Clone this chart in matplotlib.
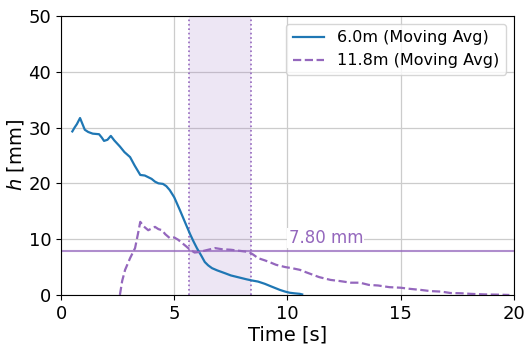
import matplotlib
matplotlib.use("Agg")
import matplotlib.pyplot as plt

# Moving-average wave height at two gauges
t_6m = [0.5, 0.6, 0.7, 0.84, 0.95, 1.05, 1.2, 1.4, 1.68, 1.8, 1.9, 2.05, 2.2, 2.35,
        2.6, 2.8, 3.05, 3.25, 3.5, 3.7, 3.85, 4.0, 4.15, 4.3, 4.5, 4.65, 4.8, 5.0,
        5.25, 5.5, 5.7, 5.85, 6.0, 6.2, 6.35, 6.5, 6.67, 6.9, 7.24, 7.5, 7.9, 8.2,
        8.43, 8.7, 9.0, 9.3, 9.67, 9.9, 10.1, 10.3, 10.55, 10.65]
h_6m = [29.3, 30.0, 30.6, 31.7, 30.6, 29.6, 29.2, 28.9, 28.8, 28.2, 27.6, 27.8, 28.5, 27.7,
        26.6, 25.6, 24.7, 23.2, 21.5, 21.4, 21.1, 20.8, 20.3, 20.0, 19.9, 19.5, 18.8, 17.5,
        15.2, 12.8, 10.9, 9.6, 8.4, 7.0, 5.9, 5.3, 4.8, 4.4, 3.9, 3.5, 3.1, 2.8,
        2.6, 2.4, 2.0, 1.5, 0.9, 0.6, 0.4, 0.3, 0.2, 0.1]

t_118m = [2.6, 2.7, 2.83, 3.05, 3.27, 3.4, 3.5, 3.65, 3.85, 4.0, 4.15, 4.3, 4.46, 4.6,
          4.8, 5.0, 5.17, 5.35, 5.5, 5.7, 5.9, 6.1, 6.4, 6.8, 7.1, 7.5, 7.9, 8.3,
          8.5, 8.7, 9.0, 9.2, 9.5, 9.9, 10.2, 10.55, 10.8, 11.0, 11.4, 11.9, 12.3,
          12.8, 13.2, 13.6, 14.0, 14.5, 15.0, 15.4, 15.9, 16.3, 16.8, 17.2, 17.7,
          18.1, 18.7, 19.4, 19.8]
h_118m = [0.0, 2.5, 4.5, 6.6, 8.4, 11.0, 13.1, 12.3, 11.6, 11.9, 12.2, 11.8, 11.6, 10.9,
          10.2, 10.3, 9.9, 9.3, 8.8, 8.1, 7.6, 7.7, 8.0, 8.4, 8.2, 8.1, 7.9, 7.7,
          7.2, 6.6, 6.2, 5.9, 5.4, 5.0, 4.8, 4.5, 4.1, 3.8, 3.2, 2.7, 2.5,
          2.2, 2.2, 1.8, 1.7, 1.4, 1.3, 1.1, 0.9, 0.7, 0.6, 0.35, 0.3,
          0.2, 0.1, 0.05, 0.0]

window_start = 5.65
window_end = 8.4
threshold = 7.80

fig = plt.figure(figsize=(5.26, 3.45), dpi=100)
ax = fig.add_axes([0.116, 0.145, 0.861, 0.809])

ax.axvspan(window_start, window_end, color="#9467bd", alpha=0.16, lw=0)
ax.axvline(window_start, color="#9467bd", ls=":", lw=1.2)
ax.axvline(window_end, color="#9467bd", ls=":", lw=1.2)
ax.axhline(threshold, color="#9467bd", lw=1.5, alpha=0.75)
ax.text(10.05, threshold + 0.8, f"{threshold:.2f} mm", color="#9467bd", fontsize=12,
        va="bottom", ha="left", bbox=dict(facecolor="white", edgecolor="none", pad=1))

ax.plot(t_6m, h_6m, color="#1f77b4", lw=1.6, label="6.0m (Moving Avg)")
ax.plot(t_118m, h_118m, color="#9467bd", lw=1.6, ls="--", label="11.8m (Moving Avg)")

ax.set_xlim(0, 20)
ax.set_ylim(0, 50)
ax.set_xticks([0, 5, 10, 15, 20])
ax.set_yticks([0, 10, 20, 30, 40, 50])
ax.tick_params(labelsize=13)
ax.set_xlabel("Time [s]", fontsize=14, labelpad=2)
ax.set_ylabel("$h$ [mm]", fontsize=14, labelpad=2)
ax.grid(True, color="#cccccc", lw=0.9)
ax.set_axisbelow(True)
ax.legend(loc="upper right", fontsize=11.5)

fig.savefig("out.png", dpi=100)
